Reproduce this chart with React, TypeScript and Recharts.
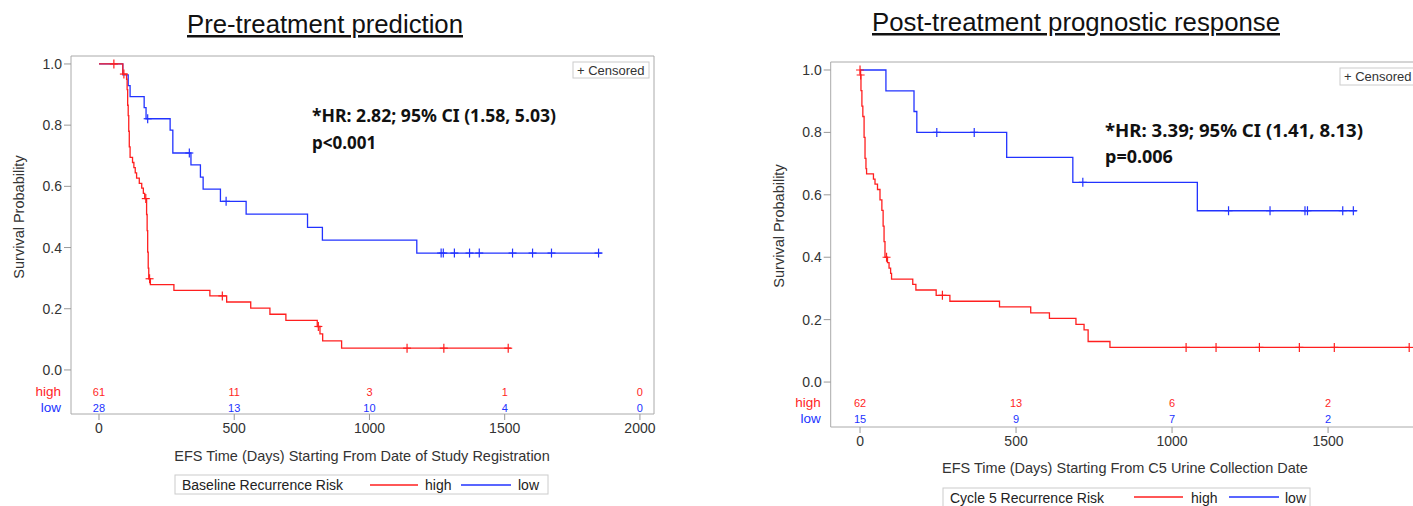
import { ComposedChart, Line, Scatter, XAxis, YAxis, ReferenceArea } from "recharts";

const RED = "#ff1f1f";
const BLUE = "#2233ff";
const FONT = '"Liberation Sans", Arial, Helvetica, sans-serif';
const NOTE_FONT = '"Noto Sans", "Open Sans", sans-serif';

// ---- Pre-treatment (baseline) KM steps ----
const preHighTime = [0, 88, 102, 104, 106, 108, 110, 112, 115, 124, 129, 134, 139, 149, 158, 164, 169, 176, 178, 180, 182, 184, 190, 277, 410, 472, 561, 632, 691, 807, 817, 827, 897, 1523];
const preHighSurv = [1, 0.967, 0.95, 0.916, 0.865, 0.831, 0.78, 0.729, 0.695, 0.678, 0.661, 0.644, 0.627, 0.61, 0.594, 0.577, 0.56, 0.508, 0.455, 0.385, 0.333, 0.298, 0.279, 0.26, 0.242, 0.222, 0.202, 0.182, 0.162, 0.142, 0.118, 0.095, 0.071, 0.071];
const preHighCensTime = [55, 92, 173, 187, 456, 811, 1139, 1275, 1513];
const preHighCensSurv = [1, 0.967, 0.56, 0.298, 0.242, 0.142, 0.071, 0.071, 0.071];

const preLowTime = [0, 88, 108, 115, 167, 174, 263, 273, 340, 375, 385, 449, 544, 771, 826, 1175, 1859];
const preLowSurv = [1, 0.964, 0.929, 0.893, 0.857, 0.821, 0.784, 0.709, 0.67, 0.63, 0.591, 0.551, 0.509, 0.466, 0.424, 0.382, 0.382];
const preLowCensTime = [180, 334, 470, 1265, 1273, 1314, 1370, 1406, 1529, 1603, 1673, 1847];
const preLowCensSurv = [0.821, 0.709, 0.551, 0.382, 0.382, 0.382, 0.382, 0.382, 0.382, 0.382, 0.382, 0.382];

// ---- Post-treatment (cycle 5) KM steps ----
const postHighTime = [0, 1, 3, 6, 9, 13, 16, 19, 21, 43, 48, 56, 64, 70, 74, 77, 80, 88, 93, 98, 101, 169, 179, 244, 288, 447, 547, 607, 692, 718, 731, 801, 1762];
const postHighSurv = [1, 0.984, 0.934, 0.884, 0.851, 0.784, 0.717, 0.684, 0.667, 0.65, 0.634, 0.617, 0.584, 0.55, 0.5, 0.45, 0.4, 0.383, 0.365, 0.348, 0.33, 0.313, 0.295, 0.278, 0.259, 0.241, 0.222, 0.204, 0.185, 0.167, 0.13, 0.111, 0.111];
const postHighCensTime = [0, 2, 85, 264, 1045, 1141, 1280, 1408, 1520, 1760];
const postHighCensSurv = [1, 0.984, 0.4, 0.278, 0.111, 0.111, 0.111, 0.111, 0.111, 0.111];

const postLowTime = [0, 83, 173, 182, 470, 682, 1081, 1592];
const postLowSurv = [1, 0.933, 0.867, 0.8, 0.72, 0.64, 0.549, 0.549];
const postLowCensTime = [246, 366, 714, 1181, 1314, 1426, 1434, 1547, 1581];
const postLowCensSurv = [0.8, 0.8, 0.64, 0.549, 0.549, 0.549, 0.549, 0.549, 0.549];

// ---- number at risk ----
const preRiskTimes = [0, 500, 1000, 1500, 2000];
const preRiskHigh = [61, 11, 3, 1, 0];
const preRiskLow = [28, 13, 10, 4, 0];
const postRiskTimes = [0, 500, 1000, 1500];
const postRiskHigh = [62, 13, 6, 2];
const postRiskLow = [15, 9, 7, 2];

const yTickVals = [0, 0.2, 0.4, 0.6, 0.8, 1.0];

const zip = (t: number[], s: number[]) => t.map((v, i) => ({ t: v, s: s[i] }));
const riskRow = (t: number[], n: number[], y: number) => t.map((v, i) => ({ t: v, s: y, n: n[i] }));

const plus = (color: string) => (p: any) => (
  <g stroke={color} strokeWidth={1.2}>
    <line x1={p.cx - 4} x2={p.cx + 4} y1={p.cy} y2={p.cy} />
    <line x1={p.cx} x2={p.cx} y1={p.cy - 4.5} y2={p.cy + 4.5} />
  </g>
);

const riskText = (color: string) => (p: any) => (
  <text x={p.cx} y={p.cy} dy={4} textAnchor="middle" fontSize={11} fill={color} fontFamily={FONT}>
    {p.payload.n}
  </text>
);

type PanelProps = {
  width: number;
  height: number;
  margin: { top: number; right: number; bottom: number; left: number };
  xDomain: [number, number];
  yDomain: [number, number];
  xTicks: number[];
  high: { t: number; s: number }[];
  low: { t: number; s: number }[];
  highCens: { t: number; s: number }[];
  lowCens: { t: number; s: number }[];
  riskHigh: { t: number; s: number; n: number }[];
  riskLow: { t: number; s: number; n: number }[];
  riskY: [number, number];
};

const KMPanel = (props: PanelProps) => {
  const { riskY } = props;
  const YTick = (p: any) => {
    const v = p.payload.value;
    if (v === riskY[0] || v === riskY[1]) {
      const isHigh = v === riskY[0];
      return (
        <text x={p.x - 1} y={p.y} dy={4} textAnchor="end" fontSize={13.5} fill={isHigh ? RED : BLUE} fontFamily={FONT}>
          {isHigh ? "high" : "low"}
        </text>
      );
    }
    return (
      <g>
        <line x1={p.x + 2} x2={p.x + 9} y1={p.y} y2={p.y} stroke="#999" />
        <text x={p.x} y={p.y} dy={5} textAnchor="end" fontSize={14} fill="#333" fontFamily={FONT}>
          {v.toFixed(1)}
        </text>
      </g>
    );
  };

  return (
    <ComposedChart width={props.width} height={props.height} margin={props.margin}>
      <ReferenceArea
        x1={props.xDomain[0]}
        x2={props.xDomain[1]}
        y1={props.yDomain[0]}
        y2={props.yDomain[1]}
        fill="none"
        stroke="#aaaaaa"
        strokeWidth={1}
        ifOverflow="visible"
      />
      <XAxis
        type="number"
        dataKey="t"
        domain={props.xDomain}
        ticks={props.xTicks}
        allowDataOverflow
        interval={0}
        height={40}
        tickSize={6}
        tickMargin={3}
        axisLine={false}
        tickLine={{ stroke: "#999" }}
        tick={{ fill: "#333", fontSize: 14, fontFamily: FONT }}
      />
      <YAxis
        type="number"
        dataKey="s"
        domain={props.yDomain}
        ticks={[riskY[1], riskY[0], ...yTickVals]}
        allowDataOverflow
        interval={0}
        width={60}
        tickSize={7}
        tickMargin={2}
        axisLine={false}
        tickLine={false}
        tick={YTick}
      />
      <Line data={props.low} dataKey="s" type="stepAfter" stroke={BLUE} strokeWidth={1.3} dot={false} activeDot={false} isAnimationActive={false} />
      <Line data={props.high} dataKey="s" type="stepAfter" stroke={RED} strokeWidth={1.3} dot={false} activeDot={false} isAnimationActive={false} />
      <Scatter data={props.lowCens} dataKey="s" shape={plus(BLUE)} isAnimationActive={false} />
      <Scatter data={props.highCens} dataKey="s" shape={plus(RED)} isAnimationActive={false} />
      <Scatter data={props.riskHigh} dataKey="s" shape={riskText(RED)} isAnimationActive={false} />
      <Scatter data={props.riskLow} dataKey="s" shape={riskText(BLUE)} isAnimationActive={false} />
    </ComposedChart>
  );
};

const App = () => {
  const preRiskY: [number, number] = [-0.072, -0.124];
  const postRiskY: [number, number] = [-0.067, -0.119];
  return (
    <div style={{ position: "absolute", left: 0, top: 0, width: 1413, height: 506, overflow: "hidden", background: "#fff" }}>
      <div style={{ position: "absolute", left: 0, top: 0 }}>
        <KMPanel
          width={700}
          height={506}
          margin={{ top: 56, right: 46, bottom: 52, left: 11 }}
          xDomain={[-103.5, 2052]}
          yDomain={[-0.144, 1.026]}
          xTicks={[0, 500, 1000, 1500, 2000]}
          high={zip(preHighTime, preHighSurv)}
          low={zip(preLowTime, preLowSurv)}
          highCens={zip(preHighCensTime, preHighCensSurv)}
          lowCens={zip(preLowCensTime, preLowCensSurv)}
          riskHigh={riskRow(preRiskTimes, preRiskHigh, preRiskY[0])}
          riskLow={riskRow(preRiskTimes, preRiskLow, preRiskY[1])}
          riskY={preRiskY}
        />
      </div>
      <div style={{ position: "absolute", left: 760, top: 0 }}>
        <KMPanel
          width={760}
          height={506}
          margin={{ top: 62, right: 20, bottom: 39, left: 10.7 }}
          xDomain={[-94, 2051]}
          yDomain={[-0.144, 1.0256]}
          xTicks={[0, 500, 1000, 1500]}
          high={zip(postHighTime, postHighSurv)}
          low={zip(postLowTime, postLowSurv)}
          highCens={zip(postHighCensTime, postHighCensSurv)}
          lowCens={zip(postLowCensTime, postLowCensSurv)}
          riskHigh={riskRow(postRiskTimes, postRiskHigh, postRiskY[0])}
          riskLow={riskRow(postRiskTimes, postRiskLow, postRiskY[1])}
          riskY={postRiskY}
        />
      </div>
      <svg style={{ position: "absolute", left: 0, top: 0 }} width={1413} height={506} fontFamily={FONT}>
        {/* titles */}
        <text x={187} y={33} fontSize={25} fill="#111" textLength={276} lengthAdjust="spacingAndGlyphs" style={{ textDecoration: "underline" }}>
          Pre-treatment prediction
        </text>
        <text x={872} y={31} fontSize={25} fill="#111" textLength={408} lengthAdjust="spacingAndGlyphs" style={{ textDecoration: "underline" }}>
          Post-treatment prognostic response
        </text>

        {/* axis titles */}
        <text x={24} y={217} fontSize={14.5} textAnchor="middle" fill="#333" transform="rotate(-90 24 217)">
          Survival Probability
        </text>
        <text x={784} y={226} fontSize={14.5} textAnchor="middle" fill="#333" transform="rotate(-90 784 226)">
          Survival Probability
        </text>
        <text x={362} y={461} fontSize={14.5} textAnchor="middle" fill="#333">
          EFS Time (Days) Starting From Date of Study Registration
        </text>
        <text x={1125} y={473} fontSize={14.5} textAnchor="middle" fill="#333">
          EFS Time (Days) Starting From C5 Urine Collection Date
        </text>

        {/* censored keys */}
        <rect x={573} y={62} width={76} height={16} fill="#fff" stroke="#cccccc" />
        <text x={577} y={74.5} fontSize={13} fill="#333">+ Censored</text>
        <rect x={1340} y={68} width={80} height={17} fill="#fff" stroke="#cccccc" />
        <text x={1344} y={81} fontSize={13} fill="#333">+ Censored</text>

        {/* HR annotations */}
        <text x={312} y={122} fontSize={17} fontWeight="bold" fontFamily={NOTE_FONT} fill="#111" textLength={244} lengthAdjust="spacingAndGlyphs">
          *HR: 2.82; 95% CI (1.58, 5.03)
        </text>
        <text x={312} y={149} fontSize={17} fontWeight="bold" fontFamily={NOTE_FONT} fill="#111">
          p&lt;0.001
        </text>
        <text x={1105} y={137} fontSize={18} fontWeight="bold" fontFamily={NOTE_FONT} fill="#111" textLength={258} lengthAdjust="spacingAndGlyphs">
          *HR: 3.39; 95% CI (1.41, 8.13)
        </text>
        <text x={1105} y={163} fontSize={18} fontWeight="bold" fontFamily={NOTE_FONT} fill="#111">
          p=0.006
        </text>

        {/* legends */}
        <rect x={175} y={475} width={373} height={19} fill="none" stroke="#cccccc" />
        <text x={182} y={489.5} fontSize={14} fill="#222">Baseline Recurrence Risk</text>
        <line x1={370} x2={418} y1={485} y2={485} stroke={RED} strokeWidth={1.3} />
        <text x={425} y={489.5} fontSize={14} fill="#222">high</text>
        <line x1={461} x2={511} y1={485} y2={485} stroke={BLUE} strokeWidth={1.3} />
        <text x={518} y={489.5} fontSize={14} fill="#222">low</text>

        <rect x={943} y={488} width={367} height={22} fill="none" stroke="#cccccc" />
        <text x={950} y={502.5} fontSize={14} fill="#222">Cycle 5 Recurrence Risk</text>
        <line x1={1134} x2={1183} y1={497} y2={497} stroke={RED} strokeWidth={1.3} />
        <text x={1191} y={502.5} fontSize={14} fill="#222">high</text>
        <line x1={1229} x2={1279} y1={497} y2={497} stroke={BLUE} strokeWidth={1.3} />
        <text x={1285} y={502.5} fontSize={14} fill="#222">low</text>
      </svg>
    </div>
  );
};

export default App;
